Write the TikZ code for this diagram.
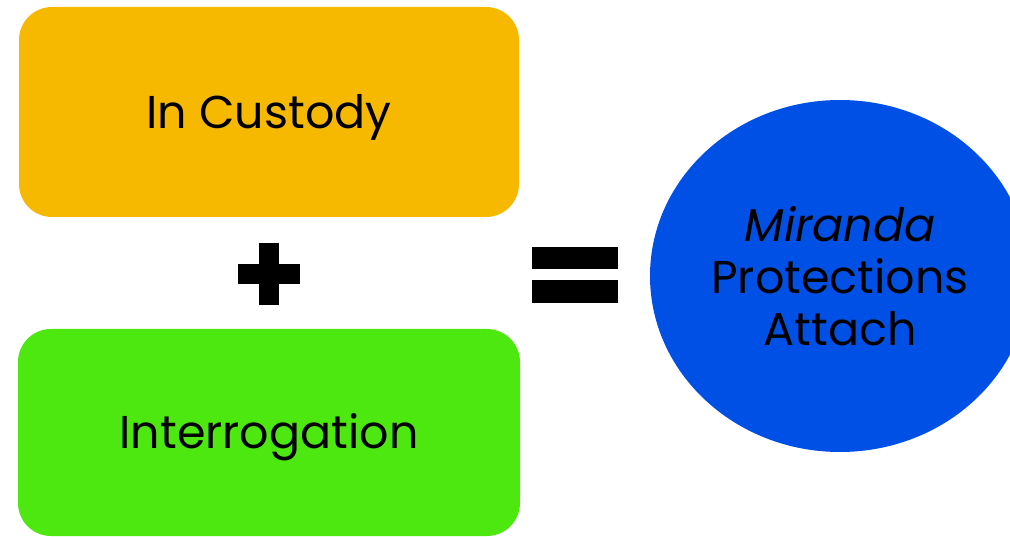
\documentclass[tikz,border=0pt]{standalone}
\usepackage{fontspec}
\setmainfont{Poppins}
\usetikzlibrary{positioning,shapes.geometric}
\definecolor{custodyorange}{HTML}{F6B900}
\definecolor{interrogreen}{HTML}{4DE80F}
\definecolor{mirandablue}{HTML}{0050E6}

\begin{document}
\begin{tikzpicture}[x=1pt,y=1pt,
		box/.style={rounded corners=33pt, minimum width=500pt, minimum height=210pt, inner sep=0pt,
			text height=33pt, text depth=0pt, font=\fontsize{46}{52}\selectfont},
		sign/.style={fill=black, draw=none}]
	\useasboundingbox (0,0) rectangle (1010,536);
	\clip (0,0) rectangle (1010,536);
	\node[box, fill=custodyorange] (custody) at (269,424) {In Custody};
	\node[box, fill=interrogreen, minimum width=502pt, minimum height=207pt] (interrogation) at (269,103.5) {Interrogation};
	% plus sign
	\fill[sign] (238,252) rectangle (300,272);
	\fill[sign] (259,231) rectangle (279,293);
	% equals sign
	\fill[sign] (532,267) rectangle (618,289);
	\fill[sign] (532,233) rectangle (618,256);
	\node[ellipse, fill=mirandablue, minimum width=380pt, minimum height=352pt, inner sep=0pt, align=center,
		font=\fontsize{46}{52}\selectfont] (miranda) at (840,260) {\textit{Miranda}\\Protections\\Attach};
\end{tikzpicture}
\end{document}
